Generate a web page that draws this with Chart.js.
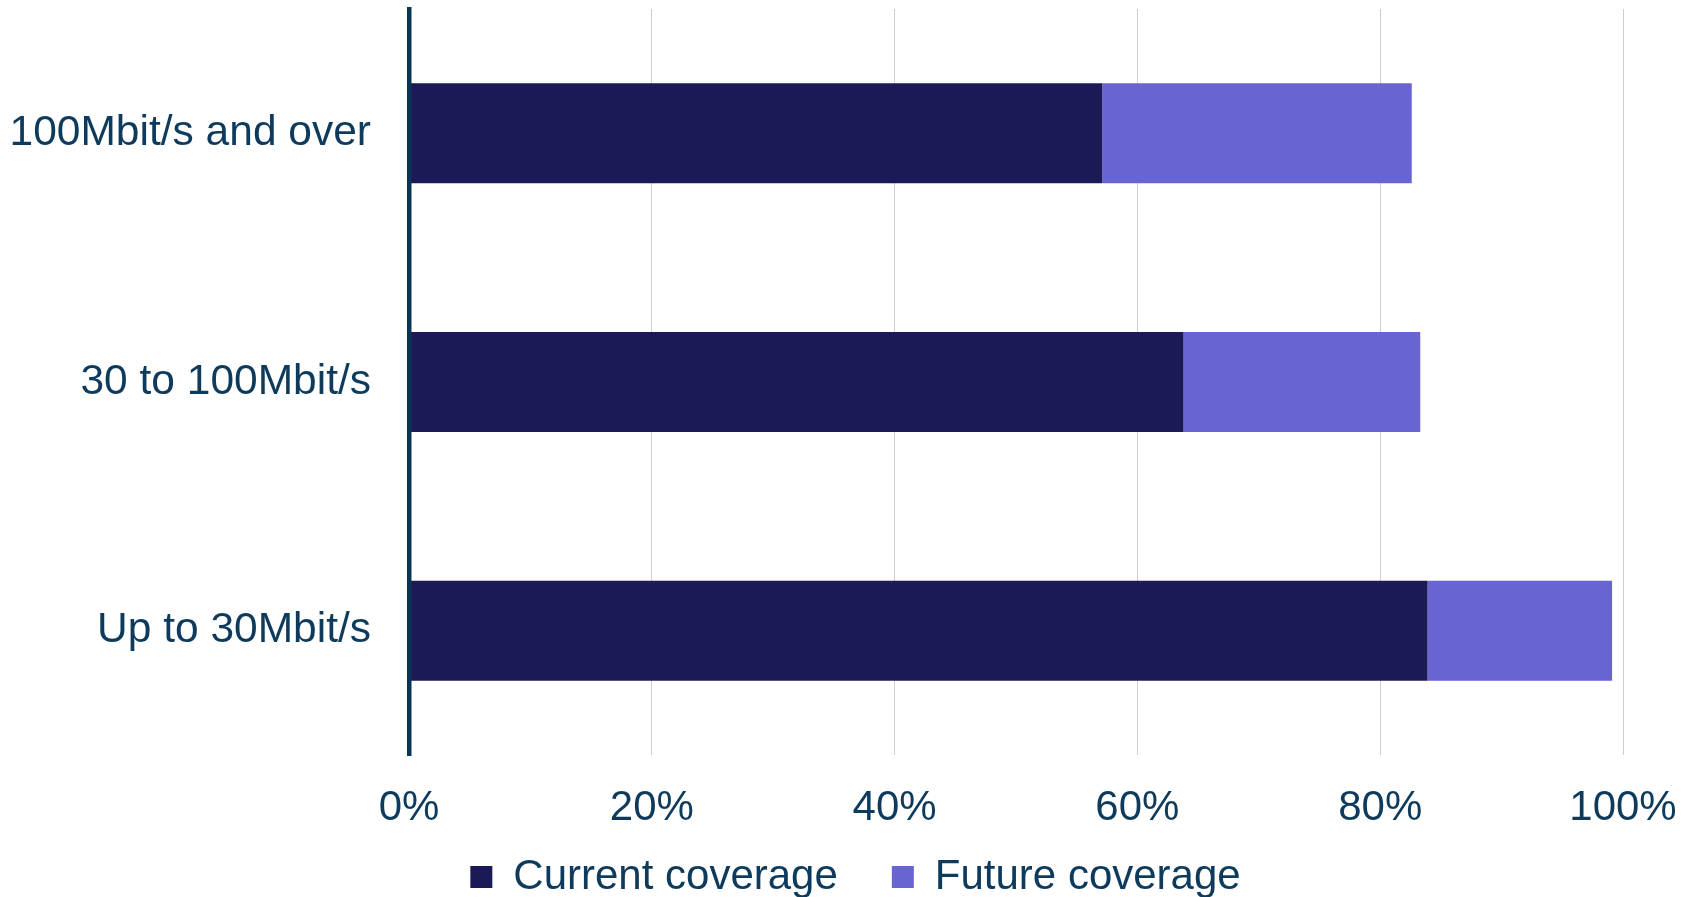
<!DOCTYPE html>
<html>
<head>
<meta charset="utf-8">
<title>Broadband coverage by speed</title>
<script src="https://cdn.jsdelivr.net/npm/chart.js@4/dist/chart.umd.min.js"></script>
<style>
  html, body { margin: 0; padding: 0; background: #ffffff; }
  #chart { display: block; }
</style>
</head>
<body>
<canvas id="chart" width="1696" height="897"></canvas>
<script>
// Speed bands shown on the vertical axis
const categories = ['100Mbit/s and over', '30 to 100Mbit/s', 'Up to 30Mbit/s'];

// Share of premises covered (%)
const currentCoverage = [57.1, 63.8, 83.9];
const futureCoverage = [25.5, 19.5, 15.2];

// Percentage axis ticks
const percentTicks = [0, 20, 40, 60, 80, 100];

const seriesLabels = ['Current coverage', 'Future coverage'];

const TEXT_COLOR = '#0e3b5c';
const AXIS_COLOR = '#0a3554';
const FONT_FAMILY = '"Liberation Sans", Arial, sans-serif';

const PLOT_LEFT = 409;      // right edge of the category axis
const PLOT_BOTTOM = 755;    // bottom edge of the plotting area
const LEGEND_HEIGHT = 62;
const LEGEND_SHIFT_X = 44;
const LEGEND_SHIFT_Y = -33;

// Nudges the bottom legend so it sits centred under the bars,
// and lets its box reach the bottom edge of the canvas
const legendPlacement = {
  id: 'legendPlacement',
  afterLayout(chart) {
    const lg = chart.legend;
    if (!lg) return;
    lg.left += LEGEND_SHIFT_X;
    lg.right += LEGEND_SHIFT_X;
    lg.top += LEGEND_SHIFT_Y;
    lg.bottom = chart.height;
    lg.height = lg.bottom - lg.top;
  }
};

new Chart(document.getElementById('chart'), {
  type: 'bar',
  data: {
    labels: categories,
    datasets: [
      {
        label: seriesLabels[0],
        data: currentCoverage,
        backgroundColor: '#1b1a57',
        borderWidth: 0,
        barPercentage: 0.402,
        categoryPercentage: 1
      },
      {
        label: seriesLabels[1],
        data: futureCoverage,
        backgroundColor: '#6864d2',
        borderWidth: 0,
        barPercentage: 0.402,
        categoryPercentage: 1
      }
    ]
  },
  options: {
    indexAxis: 'y',
    responsive: false,
    animation: false,
    devicePixelRatio: 1,
    layout: { padding: { top: 9, right: 73, left: 0, bottom: 0 } },
    plugins: {
      tooltip: { enabled: false },
      legend: {
        position: 'bottom',
        align: 'center',
        maxHeight: LEGEND_HEIGHT,
        labels: {
          color: TEXT_COLOR,
          font: { family: FONT_FAMILY, size: 42 },
          boxWidth: 22,
          boxHeight: 22,
          padding: 54
        }
      }
    },
    scales: {
      x: {
        stacked: true,
        min: 0,
        max: 100,
        afterBuildTicks(scale) {
          scale.ticks = percentTicks.map(v => ({ value: v }));
        },
        afterFit(scale) {
          scale.height = scale.chart.height - PLOT_BOTTOM - scale.chart.legend.height;
          scale.paddingLeft = 0;
          scale.paddingRight = 0;
        },
        grid: {
          display: true,
          drawTicks: false,
          color: '#cfcfcf',
          lineWidth: 1
        },
        border: { display: false },
        ticks: {
          color: TEXT_COLOR,
          font: { family: FONT_FAMILY, size: 42 },
          padding: 28,
          maxRotation: 0,
          autoSkip: false,
          callback: v => v + '%'
        }
      },
      y: {
        stacked: true,
        afterFit(scale) {
          scale.width = PLOT_LEFT;
          scale.paddingTop = 0;
          scale.paddingBottom = 0;
        },
        grid: { display: false, drawTicks: false },
        border: { display: true, color: AXIS_COLOR, width: 4.5, z: 1 },
        ticks: {
          color: TEXT_COLOR,
          font: { family: FONT_FAMILY, size: 42.5 },
          padding: 38
        }
      }
    }
  },
  plugins: [legendPlacement]
});
</script>
</body>
</html>
